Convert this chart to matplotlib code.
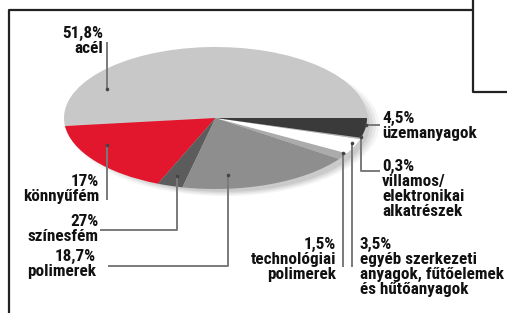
import matplotlib
matplotlib.use("Agg")
import matplotlib.pyplot as plt
from matplotlib.patches import Ellipse
from matplotlib import font_manager as fm
import numpy as np

_avail = set(f.name for f in fm.fontManager.ttflist)
_fams = [f for f in ['Roboto Condensed', 'Archivo Narrow', 'Liberation Sans Narrow']
         if f in _avail] + ['DejaVu Sans']
plt.rcParams['font.family'] = _fams

# slice order, counter-clockwise starting at 3 o'clock
categories = ["acél", "könnyűfém", "színesfém", "polimerek",
              "technológiai polimerek",
              "egyéb szerkezeti anyagok, fűtőelemek és hűtőanyagok",
              "villamos/elektronikai alkatrészek", "üzemanyagok"]
shares = [51.8, 17.0, 2.7, 18.7, 1.5, 3.5, 0.3, 4.5]
label_pct = ["51,8%", "17%", "27%", "18,7%", "1,5%", "3,5%", "0,3%", "4,5%"]
label_txt = ["acél", "könnyűfém", "színesfém", "polimerek",
             "technológiai\npolimerek",
             "egyéb szerkezeti\nanyagok, fűtőelemek\nés hűtőanyagok",
             "villamos/\nelektronikai\nalkatrészek", "üzemanyagok"]
colors = ["#c8c8c8", "#e2172d", "#5c5c5c", "#8e8e8e",
          "#ababab", "#ffffff", "#b4b4b4", "#3a3a3a"]

W, H = 507, 313
fig = plt.figure(figsize=(W / 100, H / 100), dpi=100)
fig.patch.set_facecolor("white")

def fbox(x0, y0, x1, y1):
    return [x0 / W, 1 - y1 / H, (x1 - x0) / W, (y1 - y0) / H]

# pie (squashed ellipse)
axp = fig.add_axes(fbox(64, 47, 367, 189))
for i, a in enumerate([0.04, 0.05, 0.06, 0.07]):
    s = 1 - i * 0.02
    axp.add_patch(Ellipse((0.06, -0.10), 2.04 * s, 2.0 * s, color="black",
                          alpha=a, lw=0, zorder=0, clip_on=False))
wedges, _ = axp.pie(shares, colors=colors, startangle=0, counterclock=True,
                    radius=1, wedgeprops=dict(linewidth=0))
for w in wedges:
    w.set_zorder(2)
axp.set_aspect("auto")
axp.set_xlim(-1, 1)
axp.set_ylim(-1, 1)
axp.axis("off")

# overlay in pixel coordinates
ax = fig.add_axes([0, 0, 1, 1])
ax.set_xlim(0, W)
ax.set_ylim(H, 0)
ax.axis("off")
ax.patch.set_alpha(0)

# frame lines
fc = "#222222"
ax.plot([9, 9, 473], [H, 10, 10], color=fc, lw=1.6, solid_capstyle="butt")
ax.plot([473, 473, W], [0, 92, 92], color=fc, lw=1.6, solid_capstyle="butt")

lc = "#7a7a7a"
lw = 1.4
leaders = [
    ([107, 107], [42, 89], (107, 89)),            # acél
    ([107, 107], [145, 200], (107, 145)),         # könnyűfém
    ([177, 177, 100], [176, 230, 230], (177, 176)),  # színesfém
    ([228, 228, 108], [175, 266, 266], (228, 175)),  # polimerek
    ([343, 343], [153, 267], (343, 153)),         # technológiai
    ([352, 352], [143, 267], (352, 143)),         # egyéb
    ([361, 361, 380], [137, 171, 171], (361, 137)),  # villamos
    ([366, 380], [125, 125], (366, 125)),         # üzemanyagok
]
for xs, ys, dot in leaders:
    ax.plot(xs, ys, color=lc, lw=lw, solid_capstyle="butt", zorder=3)
    ax.plot(*dot, marker="o", ms=2.6, color="#444444", mec="none", zorder=4)

fs = 12.3
ls = 1.0
# (x, y_top, ha) per slice
pos = [(103, 26, "right"), (99, 174, "right"), (99, 214, "right"),
       (96, 249, "right"), (336, 237, "right"), (360, 237, "left"),
       (382, 159, "left"), (382, 111, "left")]
for (x, y, ha), p, t in zip(pos, label_pct, label_txt):
    ax.text(x, y, p + "\n" + t, ha=ha, va="top", multialignment=ha,
            fontsize=fs, fontweight="bold", linespacing=ls, color="#111111",
            zorder=5)

fig.savefig("out.png", dpi=100, facecolor="white")
